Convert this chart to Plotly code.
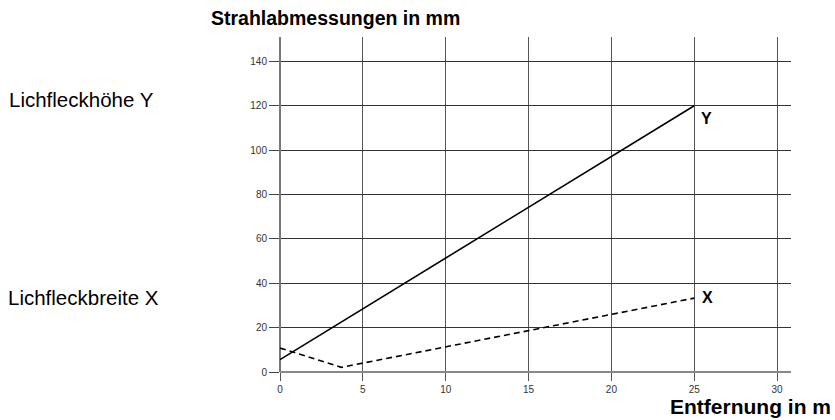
import plotly.graph_objects as go

# Beam dimensions versus distance
distance_y = [0, 25]
height_y = [5.6, 120]

distance_x = [0, 3.7, 25]
width_x = [10.8, 2.1, 33.3]

x_ticks = [0, 5, 10, 15, 20, 25, 30]
y_ticks = [0, 20, 40, 60, 80, 100, 120, 140]

FONT = "Liberation Sans, Arial, Helvetica, sans-serif"

fig = go.Figure()

fig.add_trace(go.Scatter(
    x=distance_y, y=height_y, mode="lines",
    line=dict(color="black", width=1.6),
    showlegend=False, hoverinfo="skip",
))
fig.add_trace(go.Scatter(
    x=distance_x, y=width_x, mode="lines",
    line=dict(color="black", width=1.6, dash="6px,4px"),
    showlegend=False, hoverinfo="skip",
))

annotations = [
    dict(x=distance_y[-1], y=height_y[-1], xref="x", yref="y", text="<b>Y</b>",
         showarrow=False, xanchor="left", yanchor="top", xshift=5, yshift=-2,
         font=dict(size=16, color="black", family=FONT)),
    dict(x=distance_x[-1], y=width_x[-1], xref="x", yref="y", text="<b>X</b>",
         showarrow=False, xanchor="left", yanchor="middle", xshift=6, yshift=1,
         font=dict(size=16, color="black", family=FONT)),
    dict(x=-0.139, y=1.057, xref="paper", yref="paper",
         text="<b>Strahlabmessungen in mm</b>", showarrow=False,
         xanchor="left", yanchor="middle",
         font=dict(size=19.5, color="black", family=FONT)),
    dict(x=1.082, y=-0.0985, xref="paper", yref="paper",
         text="<b>Entfernung in m</b>", showarrow=False,
         xanchor="right", yanchor="middle", yshift=-2,
         font=dict(size=21, color="black", family=FONT)),
    dict(x=-0.534, y=0.813, xref="paper", yref="paper",
         text="Lichfleckhöhe Y", showarrow=False,
         xanchor="left", yanchor="middle",
         font=dict(size=20.5, color="black", family=FONT)),
    dict(x=-0.536, y=0.221, xref="paper", yref="paper",
         text="Lichfleckbreite X", showarrow=False,
         xanchor="left", yanchor="middle",
         font=dict(size=20.5, color="black", family=FONT)),
]

fig.update_layout(
    width=835, height=420,
    margin=dict(l=280, r=44, t=37, b=48),
    paper_bgcolor="white", plot_bgcolor="white",
    annotations=annotations,
    font=dict(family=FONT),
)

fig.update_xaxes(
    range=[0, 30.84], tickvals=x_ticks, ticktext=[str(v) for v in x_ticks],
    showgrid=True, gridcolor="#555555", gridwidth=1,
    zeroline=True, zerolinecolor="#777777", zerolinewidth=1.6,
    showline=False, ticks="outside", ticklen=8, tickcolor="#555555", tickwidth=1,
    tickfont=dict(size=10, color="#333333", family=FONT),
)
fig.update_yaxes(
    range=[0, 151], tickvals=y_ticks, ticktext=[str(v) for v in y_ticks],
    showgrid=True, gridcolor="#333333", gridwidth=1,
    zeroline=True, zerolinecolor="#888888", zerolinewidth=2,
    showline=False, ticks="outside", ticklen=10, tickcolor="#444444", tickwidth=1,
    tickfont=dict(size=10, color="#333333", family=FONT),
)

fig.write_html("out.html")
